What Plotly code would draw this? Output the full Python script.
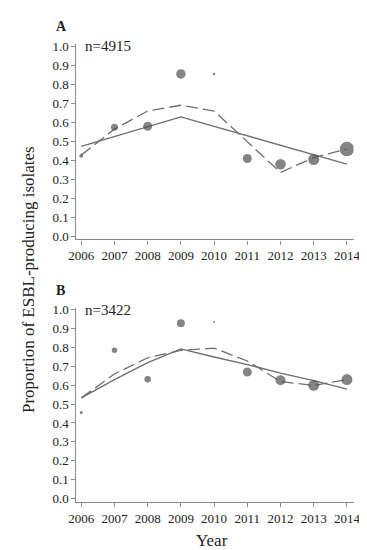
import plotly.graph_objects as go

years = [2006, 2007, 2008, 2009, 2010, 2011, 2012, 2013, 2014]

# Panel A
a_obs = [0.425, 0.575, 0.58, 0.855, 0.855, 0.41, 0.38, 0.405, 0.46]
a_size = [4, 7, 9, 9.5, 2.5, 9, 10.5, 11, 14.5]
a_solid = [0.474, 0.526, 0.577, 0.629, 0.579, 0.530, 0.480, 0.431, 0.381]
a_dash = [0.428, 0.565, 0.66, 0.69, 0.66, 0.50, 0.337, 0.415, 0.46]

# Panel B
b_obs = [0.455, 0.786, 0.632, 0.929, 0.936, 0.67, 0.627, 0.60, 0.63]
b_size = [3, 5.5, 6.5, 8, 2, 9, 10, 11, 11]
b_solid = [0.533, 0.63, 0.72, 0.793, 0.75, 0.71, 0.665, 0.625, 0.58]
b_dash = [0.533, 0.66, 0.746, 0.785, 0.797, 0.729, 0.62, 0.599, 0.63]

y_ticks = [0.0, 0.1, 0.2, 0.3, 0.4, 0.5, 0.6, 0.7, 0.8, 0.9, 1.0]

FONT = "Liberation Serif, Times New Roman, serif"
MARK = "#505050"
LINE = "#6e6e6e"
AX = "#8a8a8a"

fig = go.Figure()

for obs, size, solid, dash, xa, ya in [
    (a_obs, a_size, a_solid, a_dash, "x", "y"),
    (b_obs, b_size, b_solid, b_dash, "x2", "y2"),
]:
    fig.add_trace(go.Scatter(x=years, y=solid, mode="lines",
                             line=dict(color=LINE, width=1.3),
                             xaxis=xa, yaxis=ya, showlegend=False))
    fig.add_trace(go.Scatter(x=years, y=dash, mode="lines",
                             line=dict(color=LINE, width=1.3, dash="12px,5px"),
                             xaxis=xa, yaxis=ya, showlegend=False))
    fig.add_trace(go.Scatter(x=years, y=obs, mode="markers",
                             marker=dict(color=MARK, size=size,
                                         line=dict(width=0)),
                             xaxis=xa, yaxis=ya, showlegend=False))

xcommon = dict(range=[2005.855, 2014.2], tickvals=years,
               ticks="outside", ticklen=4, tickcolor=AX, showline=True,
               linecolor=AX, linewidth=1.2, showgrid=False, zeroline=False,
               tickfont=dict(family=FONT, size=13, color="#222"))
ycommon = dict(tickvals=y_ticks, tickformat=".1f",
               ticks="outside", ticklen=4, tickcolor=AX, showline=True,
               linecolor=AX, linewidth=1.2, showgrid=False, zeroline=False,
               tickfont=dict(family=FONT, size=13, color="#222"))

fig.update_layout(
    width=367, height=550,
    margin=dict(l=0, r=0, t=0, b=0),
    font=dict(family=FONT, color="#222"),
    paper_bgcolor="white", plot_bgcolor="white",
    xaxis=dict(domain=[0.1717, 0.959], anchor="y", **xcommon),
    yaxis=dict(domain=[0.5818, 0.9436], anchor="x", range=[-0.015, 1.01], **ycommon),
    xaxis2=dict(domain=[0.1717, 0.959], anchor="y2", **xcommon),
    yaxis2=dict(domain=[0.0945, 0.4545], anchor="x2", range=[-0.02, 1.01], **ycommon),
    annotations=[
        dict(text="<b>A</b>", x=40/367, y=1-13/550, xref="paper", yref="paper",
             xanchor="left", yanchor="middle", showarrow=False,
             font=dict(family=FONT, size=14, color="#222")),
        dict(text="<b>B</b>", x=40/367, y=1-282/550, xref="paper", yref="paper",
             xanchor="left", yanchor="middle", showarrow=False,
             font=dict(family=FONT, size=14, color="#222")),
        dict(text="n=4915", x=70/367, y=1-33/550, xref="paper", yref="paper",
             xanchor="left", yanchor="middle", showarrow=False,
             font=dict(family=FONT, size=15, color="#222")),
        dict(text="n=3422", x=70/367, y=1-302/550, xref="paper", yref="paper",
             xanchor="left", yanchor="middle", showarrow=False,
             font=dict(family=FONT, size=15, color="#222")),
        dict(text="Year", x=204/367, y=1-537/550, xref="paper", yref="paper",
             xanchor="center", yanchor="middle", showarrow=False,
             font=dict(family=FONT, size=17, color="#222")),
        dict(text="Proportion of ESBL-producing isolates", x=13/367, y=1-271/550,
             xref="paper", yref="paper", textangle=-90,
             xanchor="center", yanchor="middle", showarrow=False,
             font=dict(family=FONT, size=17, color="#222")),
    ],
)

fig.write_html("out.html")
